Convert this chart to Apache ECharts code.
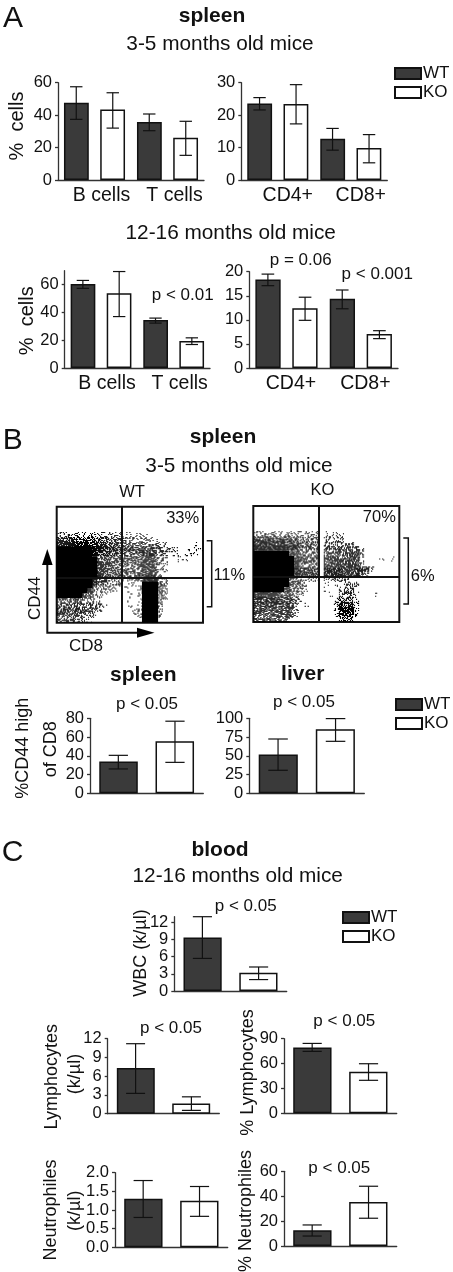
<!DOCTYPE html>
<html>
<head>
<meta charset="utf-8">
<title>Spleen, liver and blood cells in WT and KO mice</title>
<script src="https://cdn.jsdelivr.net/npm/echarts@6/dist/echarts.min.js"></script>
<style>
  html, body { margin: 0; padding: 0; background: #fff; }
  #chart { width: 453px; height: 1272px; }
</style>
</head>
<body>
<div id="chart"></div>
<script>
// --- data ---
// [low, high] ends of the error bars sit next to each bar array
const cellTypes = ['B cells', 'T cells'];
const tSubsets = ['CD4+', 'CD8+'];
const oneGroup = [''];

const youngCellsWT = [47.7, 35.8];
const youngCellsKO = [43.4, 26];
const youngCellsWTerr = [[37.4, 57.5], [30.4, 40.7]];
const youngCellsKOerr = [[32, 53.8], [15.2, 36.2]];

const youngSubsetsWT = [23.6, 12.7];
const youngSubsetsKO = [23.4, 9.9];
const youngSubsetsWTerr = [[21.6, 25.4], [9.2, 15.9]];
const youngSubsetsKOerr = [[17.3, 29.4], [5.3, 14]];

const oldCellsWT = [60.5, 34.5];
const oldCellsKO = [53.7, 19.5];
const oldCellsWTerr = [[57.3, 63], [32.3, 35.9]];
const oldCellsKOerr = [[37, 69.4], [16.9, 21.7]];

const oldSubsetsWT = [18.4, 14.4];
const oldSubsetsKO = [12.4, 7.06];
const oldSubsetsWTerr = [[17.1, 19.5], [12.3, 16.2]];
const oldSubsetsKOerr = [[9.9, 14.7], [6.1, 7.75]];

const spleenCD44WT = [33.8];
const spleenCD44KO = [55.5];
const spleenCD44WTerr = [[26, 40.5]];
const spleenCD44KOerr = [[33, 76.9]];

const liverCD44WT = [51.6];
const liverCD44KO = [85.3];
const liverCD44WTerr = [[30.7, 72.4]];
const liverCD44KOerr = [[69.3, 99.6]];

const wbcWT = [9.36];
const wbcKO = [3.2];
const wbcWTerr = [[5.7, 13]];
const wbcKOerr = [[2, 4.2]];

const lymphWT = [7.3];
const lymphKO = [1.65];
const lymphWTerr = [[3.25, 11.2]];
const lymphKOerr = [[0.53, 2.7]];

const lymphPctWT = [79.5];
const lymphPctKO = [50.2];
const lymphPctWTerr = [[74.7, 84.3]];
const lymphPctKOerr = [[39.8, 59.8]];

const neutWT = [1.3];
const neutKO = [1.25];
const neutWTerr = [[0.8, 1.79]];
const neutKOerr = [[0.83, 1.63]];

const neutPctWT = [12.6];
const neutPctKO = [35.4];
const neutPctWTerr = [[8, 16.9]];
const neutPctKOerr = [[22.3, 48]];

// flow plots: dot density 0-9 per cell, read by eye, one string per row from the top
const flowWT = [
  '', '', '', '', '',
  '22222222222221111100000000000',
  '66665555554444222221000000000',
  '88888877775554444433220000010',
  '99999998866655555555533200111',
  '99999998555544444775220111110',
  '99999999555555555776330011',
  '9999999977744444777522',
  '9999999977555444477622',
  '999999998555544466852',
  '9999999855222222288822',
  '9999999733322111199953',
  '9999998433220010299953',
  '9999975321000010299942',
  '5555533210000010199942',
  '444444433100001019993',
  '555555442000000129992',
  '555553320000000139992',
  '44443310000000000999'
];
const flowKO = [
  '', '', '', '', '',
  '2222222222222011110',
  '6666555553333022220',
  '77777766644440333333',
  '8888888664444044455552',
  '99999997744440555557730',
  '9999999977555066855772000101',
  '9999999984444066766773',
  '999999998555507777777772',
  '99999999766640777777742',
  '9999999552222222333',
  '99999997442000101033400',
  '99999965531000100244',
  '8888855532000001034410001',
  '6666655531000000144410',
  '66666655201000003666200',
  '66666666200000002888200',
  '55556666200000002666200',
  '5555555100000000044400'
];
const flowQuadX = [12.95];
const flowQuadY = [14.1];

// --- layout and look ---
const font = '"Liberation Sans", Arial, sans-serif';
const darkFill = '#3a3a3a';

const panels = [
  { left: 58, top: 82.7, width: 146, height: 97.3, max: 60, ticks: [0, 20, 40, 60], cats: cellTypes, wt: youngCellsWT, ko: youngCellsKO, wtErr: youngCellsWTerr, koErr: youngCellsKOerr, shift: 14 },
  { left: 241.3, top: 82.7, width: 146, height: 97.3, max: 30, ticks: [0, 10, 20, 30], cats: tSubsets, wt: youngSubsetsWT, ko: youngSubsetsKO, wtErr: youngSubsetsWTerr, koErr: youngSubsetsKOerr, shift: 20 },
  { left: 64.7, top: 270.7, width: 145.3, height: 97.3, max: 70, ticks: [0, 20, 40, 60], cats: cellTypes, wt: oldCellsWT, ko: oldCellsKO, wtErr: oldCellsWTerr, koErr: oldCellsKOerr, shift: 12 },
  { left: 249.3, top: 271.7, width: 148.7, height: 96.3, max: 20, ticks: [0, 5, 10, 15, 20], cats: tSubsets, wt: oldSubsetsWT, ko: oldSubsetsKO, wtErr: oldSubsetsWTerr, koErr: oldSubsetsKOerr, shift: 9 },
  { left: 90, top: 718.3, width: 113.3, height: 75, max: 80, ticks: [0, 20, 40, 60, 80], cats: oneGroup, wt: spleenCD44WT, ko: spleenCD44KO, wtErr: spleenCD44WTerr, koErr: spleenCD44KOerr },
  { left: 249.3, top: 718.3, width: 115, height: 75, max: 100, ticks: [0, 25, 50, 75, 100], cats: oneGroup, wt: liverCD44WT, ko: liverCD44KO, wtErr: liverCD44WTerr, koErr: liverCD44KOerr },
  { left: 174.3, top: 916.7, width: 112.4, height: 74.3, max: 13, ticks: [0, 3, 6, 9, 12], cats: oneGroup, wt: wbcWT, ko: wbcKO, wtErr: wbcWTerr, koErr: wbcKOerr },
  { left: 107.7, top: 1038.7, width: 111.6, height: 75, max: 12, ticks: [0, 3, 6, 9, 12], cats: oneGroup, wt: lymphWT, ko: lymphKO, wtErr: lymphWTerr, koErr: lymphKOerr },
  { left: 284, top: 1038.7, width: 112.7, height: 74.6, max: 90, ticks: [0, 30, 60, 90], cats: oneGroup, wt: lymphPctWT, ko: lymphPctKO, wtErr: lymphPctWTerr, koErr: lymphPctKOerr },
  { left: 115, top: 1172.7, width: 112.7, height: 74.6, max: 2, ticks: [0, 0.5, 1, 1.5, 2], decimals: 1, cats: oneGroup, wt: neutWT, ko: neutKO, wtErr: neutWTerr, koErr: neutKOerr },
  { left: 284, top: 1171.3, width: 112.7, height: 74.7, max: 60, ticks: [0, 20, 40, 60], cats: oneGroup, wt: neutPctWT, ko: neutPctKO, wtErr: neutPctWTerr, koErr: neutPctKOerr }
];

const flowPanels = [
  { left: 56.7, top: 506.7, width: 146.3, height: 116, rows: flowWT },
  { left: 253.3, top: 506, width: 146, height: 116, rows: flowKO }
];

const legendSpots = [[394, 65], [395, 696], [342, 909]];

// text, x, y, size, bold, rotated
const labels = [
  ['A', 13, 19, 30], ['spleen', 212, 16, 21, true], ['3-5 months old mice', 220, 44, 20.8],
  ['%  cells', 17.5, 126, 20, false, true], ['12-16 months old mice', 230.7, 233, 20.8],
  ['%  cells', 27.5, 320.7, 20, false, true],
  ['p < 0.01', 182.7, 295, 17], ['p = 0.06', 300.7, 260.7, 17], ['p < 0.001', 377.3, 274, 17],

  ['B', 12.7, 440.7, 30], ['spleen', 223, 437, 21, true], ['3-5 months old mice', 239, 466, 20.8],
  ['WT', 132, 492.7, 16.5], ['KO', 322.3, 490.7, 16.5],
  ['33%', 182.7, 518.3, 16.5], ['70%', 379.3, 517.3, 16.5],
  ['11%', 229.3, 575.7, 16.5], ['6%', 422.7, 576, 16.5],
  ['CD44', 35, 598.3, 17, false, true], ['CD8', 86, 646.7, 17],
  ['spleen', 143.3, 675.3, 21, true], ['liver', 302.7, 674.3, 21, true],
  ['p < 0.05', 147, 704, 17], ['p < 0.05', 304, 702.7, 17],
  ['%CD44 high', 23, 748.3, 18, false, true], ['of CD8', 50.7, 749.3, 18, false, true],

  ['C', 12.7, 852.7, 30], ['blood', 220, 850, 21, true], ['12-16 months old mice', 237.7, 876, 20.8],
  ['p < 0.05', 245.7, 906, 17], ['WBC (k/µl)', 140.7, 953, 18, false, true],
  ['Lymphocytes', 51.7, 1076.7, 18, false, true], ['(k/µl)', 75, 1074, 18, false, true],
  ['p < 0.05', 171, 1028.3, 17],
  ['% Lymphocytes', 248.3, 1072.5, 18, false, true], ['p < 0.05', 344.3, 1021.3, 17],
  ['Neutrophiles', 50.7, 1210, 18, false, true], ['(k/µl)', 75, 1210.8, 18, false, true],
  ['% Neutrophiles', 246, 1211, 18, false, true], ['p < 0.05', 339.3, 1168.3, 17]
];

// order the pixels of a 5x5 flow cell get switched on as density goes up
const stipple = [12, 3, 21, 7, 16, 0, 19, 9, 23, 5, 14, 1, 18, 10, 24, 6, 20, 2, 15, 8, 22, 11, 4, 17, 13];

// --- option building ---
const grid = [], xAxis = [], yAxis = [], series = [];

function errorSeries(name, idx, errs, side) {
  return {
    name: name,
    type: 'custom',
    xAxisIndex: idx,
    yAxisIndex: idx,
    z: 5,
    data: errs.map((e, i) => [i, e[0], e[1]]),
    renderItem: (params, api) => {
      const band = api.size([1, 0])[0];
      const dx = side * band * 0.25;
      const cap = band * 0.085;
      const low = api.coord([api.value(0), api.value(1)]);
      const high = api.coord([api.value(0), api.value(2)]);
      const x = low[0] + dx;
      const style = { stroke: '#111', lineWidth: 1.2, fill: null };
      const seg = (x1, y1, x2, y2) => ({ type: 'line', shape: { x1, y1, x2, y2 }, style });
      return {
        type: 'group',
        children: [
          seg(x, low[1], x, high[1]),
          seg(x - cap, low[1], x + cap, low[1]),
          seg(x - cap, high[1], x + cap, high[1])
        ]
      };
    }
  };
}

panels.forEach((p, idx) => {
  grid.push({ left: p.left, top: p.top, width: p.width, height: p.height });
  xAxis.push({
    type: 'category',
    gridIndex: idx,
    data: p.cats,
    axisLine: { lineStyle: { color: '#333', width: 1.3 } },
    axisTick: { show: false },
    axisLabel: {
      interval: 0,
      hideOverlap: false,
      color: '#111',
      fontFamily: font,
      fontSize: 19.5,
      margin: 6,
      padding: [0, 0, 0, p.shift || 0]
    }
  });
  yAxis.push({
    type: 'value',
    gridIndex: idx,
    min: 0,
    max: p.max,
    axisLine: { show: true, lineStyle: { color: '#333', width: 1.3 } },
    axisTick: { show: true, length: 3, customValues: p.ticks, lineStyle: { color: '#333', width: 1.3 } },
    splitLine: { show: false },
    axisLabel: {
      customValues: p.ticks,
      color: '#111',
      fontFamily: font,
      fontSize: 16.5,
      margin: 6,
      formatter: v => (p.decimals ? v.toFixed(p.decimals) : String(v))
    }
  });
  series.push({
    name: 'WT',
    type: 'bar',
    xAxisIndex: idx,
    yAxisIndex: idx,
    data: p.wt,
    barWidth: '34%',
    barGap: '46%',
    itemStyle: { color: darkFill, borderColor: '#111', borderWidth: 1.5 }
  }, {
    name: 'KO',
    type: 'bar',
    xAxisIndex: idx,
    yAxisIndex: idx,
    data: p.ko,
    barWidth: '34%',
    barGap: '46%',
    itemStyle: { color: '#fff', borderColor: '#111', borderWidth: 1.5 }
  }, errorSeries('WT error', idx, p.wtErr, -1), errorSeries('KO error', idx, p.koErr, 1));
});

flowPanels.forEach((f, i) => {
  const idx = panels.length + i;
  grid.push({ left: f.left, top: f.top, width: f.width, height: f.height, show: true, borderColor: '#111', borderWidth: 2, backgroundColor: '#fff' });
  xAxis.push({ type: 'value', gridIndex: idx, min: 0, max: 29, show: false });
  yAxis.push({ type: 'value', gridIndex: idx, min: 0, max: 23, inverse: true, show: false });
  const cells = [];
  f.rows.forEach((row, r) => {
    for (let c = 0; c < row.length; c++) {
      if (row[c] !== '0') cells.push([c, r, Number(row[c])]);
    }
  });
  series.push({
    name: i ? 'KO dots' : 'WT dots',
    type: 'custom',
    xAxisIndex: idx,
    yAxisIndex: idx,
    clip: true,
    data: cells,
    renderItem: (params, api) => {
      const col = api.value(0), row = api.value(1), level = api.value(2);
      const pos = api.coord([col, row]);
      const size = api.size([1, 1]);
      const fill = { fill: '#000', stroke: null };
      if (level === 9) {
        // overlap the neighbours a little, otherwise seams show through the solid blobs
        return { type: 'rect', shape: { x: pos[0] - 0.5, y: pos[1] - 0.5, width: size[0] + 1, height: size[1] + 1 }, style: fill };
      }
      const on = Math.round(level * 25 / 9);
      // each cell enters the pixel order at its own place and walks it at its own step,
      // so the cells don't line up into stripes
      const start = stipple[(col + stipple[row % 25]) % 25];
      const step = [1, 2, 3, 4, 6, 7, 8, 9, 11, 12][(col * 3 + row) % 10];
      const children = [];
      for (let n = 0; n < on; n++) {
        const s = stipple[(start + n * step) % 25];
        children.push({
          type: 'rect',
          shape: { x: pos[0] + (s % 5) * size[0] / 5, y: pos[1] + Math.floor(s / 5) * size[1] / 5, width: 1.1, height: 1.1 },
          style: fill
        });
      }
      return { type: 'group', children };
    },
    markLine: {
      silent: true,
      symbol: 'none',
      label: { show: false },
      lineStyle: { color: '#111', width: 2, type: 'solid' },
      data: [{ xAxis: flowQuadX[0] }, { yAxis: flowQuadY[0] }]
    }
  });
});

const graphic = labels.map(t => ({
  type: 'text',
  x: t[1],
  y: t[2],
  rotation: t[5] ? Math.PI / 2 : 0,
  z: 20,
  style: {
    text: t[0],
    fill: '#111',
    font: (t[4] ? 'bold ' : '') + t[3] + 'px ' + font,
    align: 'center',
    verticalAlign: 'middle'
  }
}));

// gate brackets and the CD44 / CD8 arrows
const bracket = (x, y1, y2) => ({
  type: 'polyline',
  z: 20,
  shape: { points: [[x, y1], [x + 5, y1], [x + 5, y2], [x, y2]] },
  style: { stroke: '#111', lineWidth: 1.5, fill: null }
});
graphic.push(
  bracket(206.7, 540.7, 606.7),
  bracket(403.3, 538, 604),
  { type: 'polyline', z: 20, shape: { points: [[47.3, 560], [47.3, 632.7], [142, 632.7]] }, style: { stroke: '#111', lineWidth: 2, fill: null } },
  { type: 'polygon', z: 20, shape: { points: [[47.3, 549], [42, 565], [52.6, 565]] }, style: { fill: '#000' } },
  { type: 'polygon', z: 20, shape: { points: [[154.5, 632.7], [137, 627.7], [137, 637.7]] }, style: { fill: '#000' } }
);

const legend = legendSpots.map(s => ({
  data: ['WT', 'KO'],
  orient: 'vertical',
  left: s[0],
  top: s[1],
  padding: 0,
  itemWidth: 26,
  itemHeight: 11,
  itemGap: 2,
  selectedMode: false,
  icon: 'rect',
  textStyle: { color: '#111', fontFamily: font, fontSize: 17, padding: [0, 0, 0, -3] }
}));

const chart = echarts.init(document.getElementById('chart'));
chart.setOption({
  backgroundColor: '#fff',
  animation: false,
  textStyle: { fontFamily: font },
  grid,
  xAxis,
  yAxis,
  legend,
  graphic,
  series
});
</script>
</body>
</html>
